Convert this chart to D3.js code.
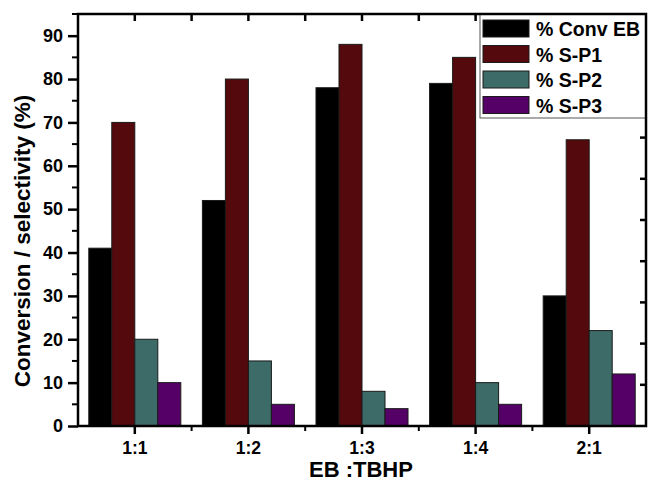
<!DOCTYPE html>
<html>
<head>
<meta charset="utf-8">
<script src="https://cdn.jsdelivr.net/npm/d3@7"></script>
<style>
  body { margin: 0; background: #fff; }
  svg { display: block; font-family: "Liberation Sans", Arial, sans-serif; font-weight: bold; }
</style>
</head>
<body>
<div id="chart"></div>
<script>
// data
const ratios = ['1:1', '1:2', '1:3', '1:4', '2:1'];
const seriesNames = ['% Conv EB', '% S-P1', '% S-P2', '% S-P3'];
const convEB = [41, 52, 78, 79, 30];
const selP1 = [70, 80, 88, 85, 66];
const selP2 = [20, 15, 8, 10, 22];
const selP3 = [10, 5, 4, 5, 12];
const yTicks = [0, 10, 20, 30, 40, 50, 60, 70, 80, 90];

const colors = ['#000000', '#540a0c', '#3c6b68', '#550066'];
const seriesValues = [convEB, selP1, selP2, selP3];

const width = 648, height = 483;
const plotLeft = 78, plotRight = 646, plotTop = 14, plotBottom = 426;

const svg = d3.select('#chart').append('svg')
    .attr('width', width)
    .attr('height', height);

// scales
const x0 = d3.scaleBand()
    .domain(ratios)
    .range([plotLeft, plotRight])
    .paddingInner(0.19)
    .paddingOuter(0.095);

const x1 = d3.scaleBand()
    .domain(seriesNames)
    .range([0, x0.bandwidth()]);

const y = d3.scaleLinear().domain([0, 95]).range([plotBottom, plotTop]);
// the right-hand axis in the original runs on its own 0-100 scale
const yRight = d3.scaleLinear().domain([0, 100]).range([plotBottom, plotTop]);

// bars
const groups = svg.append('g')
    .selectAll('g')
    .data(ratios)
    .join('g')
    .attr('transform', d => `translate(${x0(d)},0)`);

groups.selectAll('rect')
    .data((d, i) => seriesNames.map((s, j) => ({ s, v: seriesValues[j][i], c: colors[j] })))
    .join('rect')
    .attr('x', d => x1(d.s))
    .attr('y', d => y(d.v))
    .attr('width', x1.bandwidth())
    .attr('height', d => y(0) - y(d.v))
    .attr('fill', d => d.c)
    .attr('stroke', '#1a1a1a')
    .attr('stroke-width', 1);

// left axis
const yAxis = svg.append('g')
    .attr('transform', `translate(${plotLeft},0)`)
    .call(d3.axisLeft(y).tickValues(yTicks).tickSize(10).tickPadding(5));
yAxis.select('.domain').remove();
yAxis.selectAll('line').attr('stroke', '#000').attr('stroke-width', 2.5);
yAxis.selectAll('text').attr('font-size', 18).attr('fill', '#000')
    .attr('font-family', '"Liberation Sans", Arial, sans-serif').attr('font-weight', 'bold');

// left minor ticks
svg.append('g')
    .selectAll('line')
    .data(yTicks.map(t => t + 5))
    .join('line')
    .attr('x1', plotLeft - 6).attr('x2', plotLeft)
    .attr('y1', d => y(d)).attr('y2', d => y(d))
    .attr('stroke', '#000').attr('stroke-width', 2);

// bottom axis
const xAxis = svg.append('g')
    .attr('transform', `translate(0,${plotBottom})`)
    .call(d3.axisBottom(x0).tickSize(8).tickPadding(8));
xAxis.select('.domain').remove();
xAxis.selectAll('line').attr('stroke', '#000').attr('stroke-width', 2.5);
xAxis.selectAll('text').attr('font-size', 17.5).attr('fill', '#000')
    .attr('font-family', '"Liberation Sans", Arial, sans-serif').attr('font-weight', 'bold');

// bottom minor ticks between groups
const boundaries = ratios.slice(0, -1).map(r => x0(r) + x0.bandwidth() / 2 + x0.step() / 2);
svg.append('g')
    .selectAll('line')
    .data(boundaries)
    .join('line')
    .attr('x1', d => d).attr('x2', d => d)
    .attr('y1', plotBottom).attr('y2', plotBottom + 5)
    .attr('stroke', '#000').attr('stroke-width', 2);

// top axis: inward ticks at centres and boundaries
const topTicks = ratios.map(r => x0(r) + x0.bandwidth() / 2).concat(boundaries);
svg.append('g')
    .selectAll('line')
    .data(topTicks)
    .join('line')
    .attr('x1', d => d).attr('x2', d => d)
    .attr('y1', plotTop).attr('y2', plotTop + 7)
    .attr('stroke', '#000').attr('stroke-width', 2.5);

// right axis: inward ticks
svg.append('g')
    .selectAll('line')
    .data(d3.range(10, 100, 10))
    .join('line')
    .attr('x1', plotRight - 6).attr('x2', plotRight)
    .attr('y1', d => yRight(d)).attr('y2', d => yRight(d))
    .attr('stroke', '#000').attr('stroke-width', 2.5);

// legend
const legend = svg.append('g');
legend.append('rect')
    .attr('x', 480).attr('y', plotTop)
    .attr('width', plotRight - 480).attr('height', 104)
    .attr('fill', '#fff')
    .attr('stroke', '#555').attr('stroke-width', 1);

const items = legend.selectAll('g.item')
    .data(seriesNames)
    .join('g')
    .attr('class', 'item')
    .attr('transform', (d, i) => `translate(483,${20 + i * 25.5})`);

items.append('rect')
    .attr('width', 46).attr('height', 17)
    .attr('fill', (d, i) => colors[i])
    .attr('stroke', '#1a1a1a').attr('stroke-width', 1);

items.append('text')
    .attr('x', 53).attr('y', 16)
    .attr('font-size', 19.5)
    .text(d => d);

// frame
svg.append('rect')
    .attr('x', plotLeft).attr('y', plotTop)
    .attr('width', plotRight - plotLeft).attr('height', plotBottom - plotTop)
    .attr('fill', 'none')
    .attr('stroke', '#000').attr('stroke-width', 2.5);

// axis titles
svg.append('text')
    .attr('transform', `translate(30,241) rotate(-90)`)
    .attr('text-anchor', 'middle')
    .attr('font-size', 22.5)
    .text('Conversion / selectivity (%)');

svg.append('text')
    .attr('x', 361).attr('y', 477)
    .attr('text-anchor', 'middle')
    .attr('font-size', 22)
    .text('EB :TBHP');
</script>
</body>
</html>
